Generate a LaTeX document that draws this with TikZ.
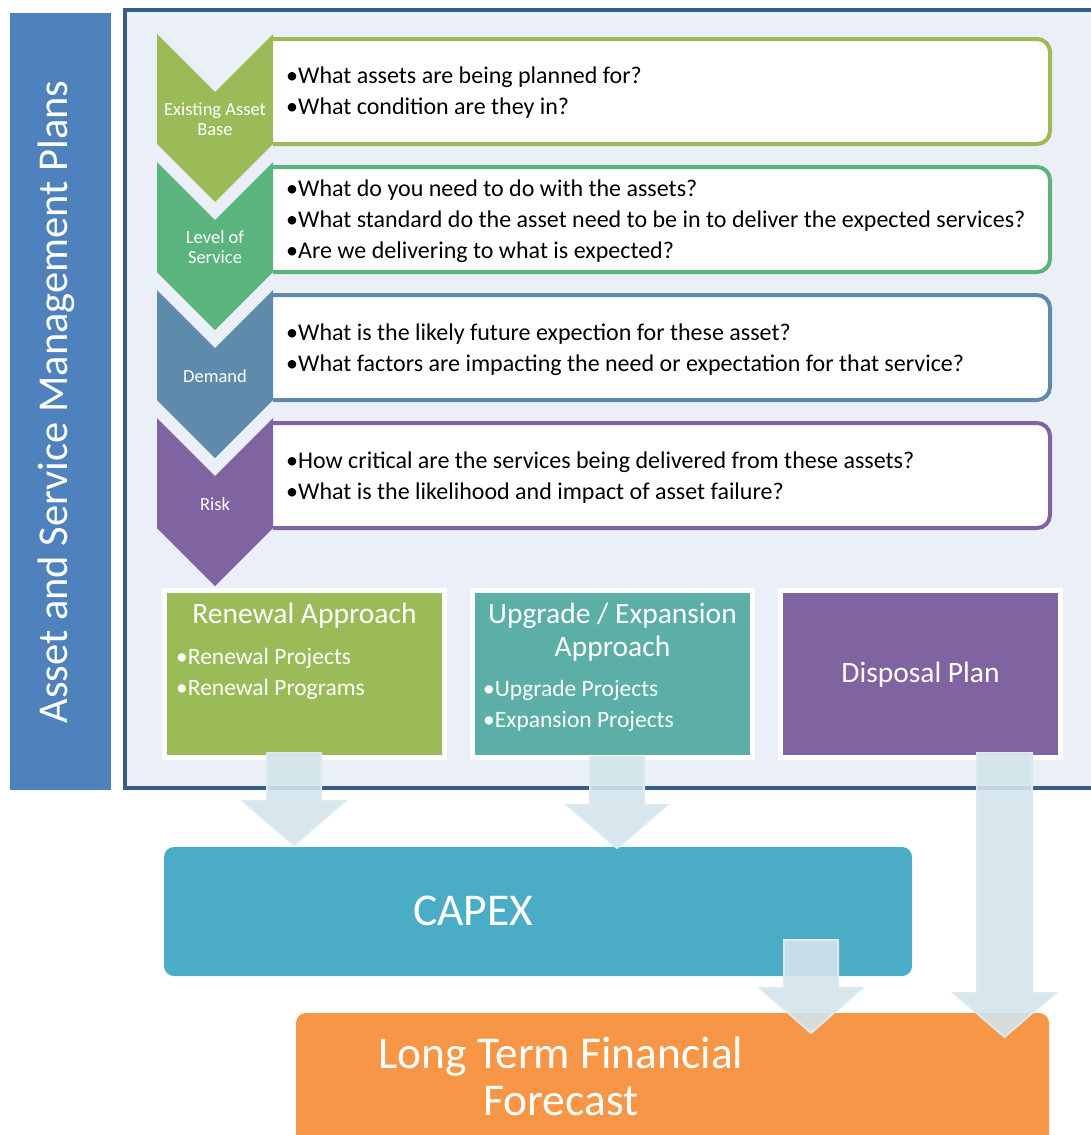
\documentclass[tikz,border=0pt]{standalone}
\usepackage{fontspec}
\setmainfont{Carlito}
\usetikzlibrary{calc}
\definecolor{framecol}{HTML}{385D8A}
\definecolor{framefill}{HTML}{EBF0F8}
\definecolor{barblue}{HTML}{4F81BD}
\definecolor{cgreen}{HTML}{9BBB59}
\definecolor{cmint}{HTML}{5BB37E}
\definecolor{cslate}{HTML}{5E8BAB}
\definecolor{cpurple}{HTML}{8064A2}
\definecolor{cteal}{HTML}{5BAFA6}
\definecolor{ccapex}{HTML}{4BACC6}
\definecolor{corange}{HTML}{F79646}
\definecolor{arrfill}{HTML}{D3E4EB}
\definecolor{arrline}{HTML}{DCEAEF}
\tikzset{
  qbox/.style={draw=#1, line width=4pt, fill=white, rounded corners=13pt, minimum width=820pt, minimum height=105pt, inner sep=0pt},
  chev/.style={fill=#1, draw=none},
  chevlabel/.style={text=white, font=\fontsize{18.5}{20}\selectfont, align=center, inner sep=0pt},
  qtext/.style={anchor=west, align=left, font=\fontsize{24}{31}\selectfont, inner sep=0pt},
  plan/.style={fill=#1, draw=white, line width=5pt, minimum width=280pt, minimum height=167pt, inner sep=0pt},
  plantitle/.style={text=white, font=\fontsize{29.5}{33}\selectfont, align=center, inner sep=0pt},
  planitem/.style={text=white, anchor=west, align=left, font=\fontsize{23.5}{31}\selectfont, inner sep=0pt},
  blockarrow/.style={fill=arrfill, fill opacity=0.9, draw=arrline, line width=2pt, line join=miter},
  bigbox/.style={fill=#1, draw=none, rounded corners=10pt, inner sep=0pt}
}
\newcommand{\mychevron}[3]{% left x, top y, colour
  \fill[chev=#3] (#1,#2) -- (#1+58,#2+58) -- (#1+116,#2) -- (#1+116,#2+110) -- (#1+58,#2+168) -- (#1,#2+110) -- cycle;}
\newcommand{\myarrow}[7]{% name, cx, shaft half, head half, top, headtop, tip
  \draw[blockarrow] (#2-#3,#5) -- (#2+#3,#5) -- (#2+#3,#6) -- (#2+#4,#6) -- (#2,#7) coordinate (#1) -- (#2-#4,#6) -- (#2-#3,#6) -- cycle;}
\begin{document}
\begin{tikzpicture}[x=1pt,y=-1pt]
\useasboundingbox (0,0) rectangle (1090,1135);
% left bar
\node[fill=barblue, minimum width=101pt, minimum height=777pt, inner sep=0pt] (bar) at (60.5,401.5) {};
\node[rotate=90, text=white, font=\fontsize{42.5}{46}\selectfont, inner sep=0pt] (bartext) at (56,402) {Asset and Service Management Plans};
% frame
\draw[draw=framecol, fill=framefill, line width=4pt] (124.5,10) rectangle (1110,788);
% question boxes (left part hidden: clipped at chevron edge)
\begin{scope}
\clip (273,0) rectangle (1090,560);
\node[qbox=cgreen] (q1) at (640,91.5) {};
\node[qbox=cmint] (q2) at (640,219.5) {};
\node[qbox=cslate] (q3) at (640,347.5) {};
\node[qbox=cpurple] (q4) at (640,475.5) {};
\end{scope}
% chevrons
\mychevron{157}{34}{cgreen}
\mychevron{157}{162}{cmint}
\mychevron{157}{290}{cslate}
\mychevron{157}{418}{cpurple}
\node[chevlabel] (c1) at (215,119) {Existing Asset\\Base};
\node[chevlabel] (c2) at (215,247.5) {Level of\\Service};
\node[chevlabel] (c3) at (215,376) {Demand};
\node[chevlabel] (c4) at (215,504) {Risk};
% question texts
\node[qtext] (t1) at (286,93) {•What assets are being planned for?\\•What condition are they in?};
\node[qtext] (t2) at (286,221) {•What do you need to do with the assets?\\•What standard do the asset need to be in to deliver the expected services?\\•Are we delivering to what is expected?};
\node[qtext] (t3) at (286,349.5) {•What is the likely future expection for these asset?\\•What factors are impacting the need or expectation for that service?};
\node[qtext] (t4) at (286,477.5) {•How critical are the services being delivered from these assets?\\•What is the likelihood and impact of asset failure?};
% plans
\node[plan=cgreen] (ren) at (304.5,674) {};
\node[plan=cteal] (upg) at (612.5,674) {};
\node[plan=cpurple] (dis) at (920.5,674) {};
\node[plantitle] (rent) at (304.5,616) {Renewal Approach};
\node[planitem] (reni) at (176,674) {•Renewal Projects\\•Renewal Programs};
\node[plantitle] (upgt) at (612.5,632) {Upgrade / Expansion\\Approach};
\node[planitem] (upgi) at (483,706) {•Upgrade Projects\\•Expansion Projects};
\node[plantitle] (dist) at (920.5,675) {Disposal Plan};
% capex and ltff
\node[bigbox=ccapex, minimum width=748pt, minimum height=129pt] (capex) at (538,911.5) {};
\node[text=white, font=\fontsize{45.5}{47}\selectfont, inner sep=0pt] (capext) at (473,911) {CAPEX};
\node[bigbox=corange, minimum width=753pt, minimum height=140pt] (ltff) at (672.5,1083) {};
\node[text=white, font=\fontsize{45.5}{47}\selectfont, align=center, inner sep=0pt] (ltfft) at (561,1076) {Long Term Financial\\Forecast};
% block arrows
\myarrow{a1}{294}{27}{51}{753}{801}{845}
\myarrow{a2}{617}{27}{50}{757}{805}{848}
\myarrow{a3}{811}{27}{51}{940}{988}{1033}
\myarrow{a4}{1004.5}{27.5}{51}{753}{993}{1037}
\end{tikzpicture}
\end{document}
